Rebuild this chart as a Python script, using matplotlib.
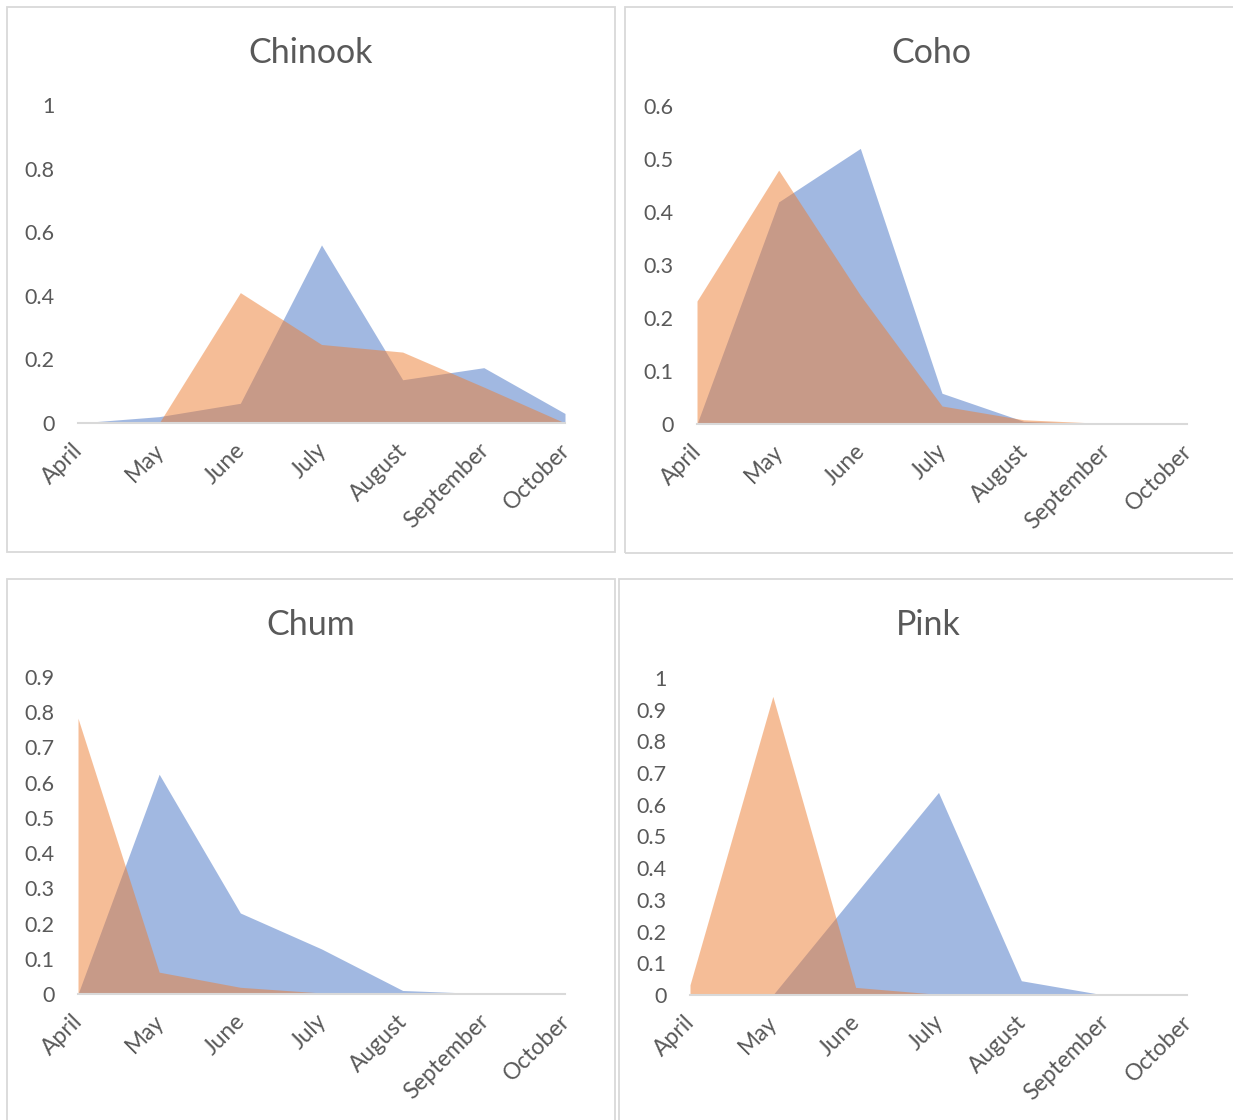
import matplotlib
matplotlib.use("Agg")
import matplotlib.pyplot as plt
from matplotlib.patches import Rectangle
from matplotlib.transforms import ScaledTranslation

plt.rcParams['font.family'] = ['Lato', 'DejaVu Sans']

months = ['April', 'May', 'June', 'July', 'August', 'September', 'October']

chinook_blue = [0, 0.02, 0.062, 0.56, 0.136, 0.174, 0.03]
chinook_orange = [0, 0, 0.41, 0.247, 0.223, 0.113, 0]
coho_blue = [0, 0.419, 0.52, 0.058, 0.005, 0, 0]
coho_orange = [0.232, 0.479, 0.243, 0.034, 0.008, 0.001, 0]
chum_blue = [0, 0.624, 0.23, 0.128, 0.01, 0.001, 0]
chum_orange = [0.783, 0.062, 0.019, 0.003, 0, 0, 0]
pink_blue = [0, 0, 0.32, 0.639, 0.045, 0, 0]
pink_orange = [0.032, 0.942, 0.024, 0.002, 0, 0, 0]

chinook_ticks = [0, 0.2, 0.4, 0.6, 0.8, 1]
chinook_ticklabels = ['0', '0.2', '0.4', '0.6', '0.8', '1']
coho_ticks = [0, 0.1, 0.2, 0.3, 0.4, 0.5, 0.6]
coho_ticklabels = ['0', '0.1', '0.2', '0.3', '0.4', '0.5', '0.6']
chum_ticks = [0, 0.1, 0.2, 0.3, 0.4, 0.5, 0.6, 0.7, 0.8, 0.9]
chum_ticklabels = ['0', '0.1', '0.2', '0.3', '0.4', '0.5', '0.6', '0.7', '0.8', '0.9']
pink_ticks = [0, 0.1, 0.2, 0.3, 0.4, 0.5, 0.6, 0.7, 0.8, 0.9, 1]
pink_ticklabels = ['0', '0.1', '0.2', '0.3', '0.4', '0.5', '0.6', '0.7', '0.8', '0.9', '1']

W, H = 1233, 1120
fig = plt.figure(figsize=(W / 100, H / 100), dpi=100)
fig.patch.set_facecolor('white')

TXT = '#595959'
BLUE = '#4472C4'
ORANGE = '#ED7D31'
BORDER = '#d9d9d9'

# panel borders (pixel coords: x0, y0, x1, y1 from top)
panels = [(7, 7, 615, 552), (625, 7, 1240, 553), (7, 579, 615, 1125), (619, 579, 1240, 1125)]
for (x0, y0, x1, y1) in panels:
    fig.add_artist(Rectangle((x0 / W, 1 - y1 / H), (x1 - x0) / W, (y1 - y0) / H,
                             transform=fig.transFigure, fill=False, ec=BORDER, lw=1.3))

specs = [
    ('Chinook', chinook_blue, chinook_orange, chinook_ticks, chinook_ticklabels, 1.0,
     (78, 565, 423, 105), (311, 53)),
    ('Coho', coho_blue, coho_orange, coho_ticks, coho_ticklabels, 0.6,
     (697, 1187, 424, 106), (931, 53)),
    ('Chum', chum_blue, chum_orange, chum_ticks, chum_ticklabels, 0.9,
     (78, 565, 994, 677), (311, 625)),
    ('Pink', pink_blue, pink_orange, pink_ticks, pink_ticklabels, 1.0,
     (690, 1187, 995, 678), (928, 625)),
]

shift = ScaledTranslation(-6 / 100, 0, fig.dpi_scale_trans)

x = list(range(len(months)))
for title, blue, orange, ticks, ticklabels, ymax, (l, r, yb, yt), (tx, ty) in specs:
    ax = fig.add_axes([l / W, 1 - yb / H, (r - l) / W, (yb - yt) / H])
    ax.fill_between(x, 0, blue, color=BLUE, alpha=0.5, lw=0, zorder=1)
    ax.fill_between(x, 0, orange, color=ORANGE, alpha=0.5, lw=0, zorder=2)
    ax.set_xlim(0, len(months) - 1)
    ax.set_ylim(0, ymax)
    ax.set_yticks(ticks)
    ax.set_yticklabels(ticklabels)
    ax.set_xticks(x)
    ax.set_xticklabels(months, rotation=45, ha='right', va='top', rotation_mode='anchor')
    ax.tick_params(axis='both', length=0, colors=TXT)
    ax.tick_params(axis='y', pad=17, labelsize=15.5)
    ax.tick_params(axis='x', pad=12, labelsize=16.5)
    for lab in ax.get_xticklabels():
        lab.set_transform(lab.get_transform() + shift)
    for s in ['top', 'right', 'left']:
        ax.spines[s].set_visible(False)
    ax.spines['bottom'].set_color(BORDER)
    ax.spines['bottom'].set_linewidth(1.5)
    ax.spines['bottom'].set_zorder(3)
    ax.patch.set_alpha(0)
    fig.text(tx / W, 1 - ty / H, title, ha='center', va='center', fontsize=24.5, color=TXT)

fig.savefig('out.png', dpi=100, facecolor='white')
